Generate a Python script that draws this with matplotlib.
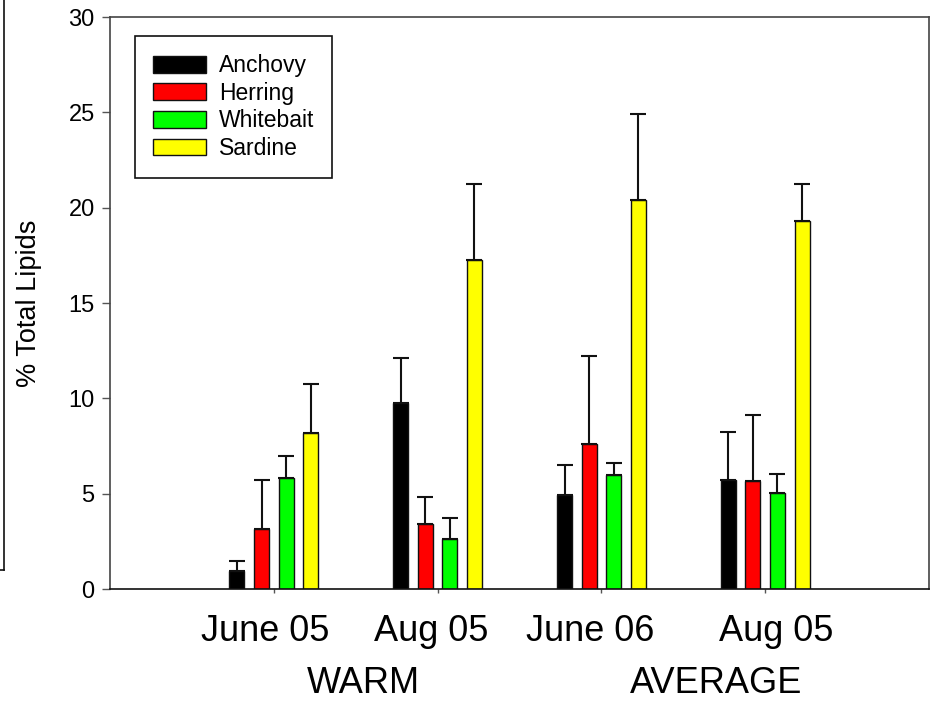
import matplotlib
matplotlib.use("Agg")
import matplotlib.pyplot as plt
from matplotlib.lines import Line2D
import matplotlib.transforms as mtransforms
import numpy as np

plt.rcParams['font.family'] = ['Liberation Sans', 'DejaVu Sans']

# ---- data ----
periods = ['June 05', 'Aug 05', 'June 06', 'Aug 05']
conditions = ['WARM', 'AVERAGE']
species = ['Anchovy', 'Herring', 'Whitebait', 'Sardine']
colors = ['#000000', '#ff0000', '#00ff00', '#ffff00']

anchovy = [0.94, 9.75, 4.91, 5.72]
anchovy_err = [0.54, 2.35, 1.57, 2.50]
herring = [3.13, 3.39, 7.60, 5.66]
herring_err = [2.60, 1.45, 4.63, 3.49]
whitebait = [5.82, 2.61, 5.98, 5.01]
whitebait_err = [1.17, 1.11, 0.64, 1.03]
sardine = [8.18, 17.27, 20.42, 19.29]
sardine_err = [2.55, 3.95, 4.49, 1.93]

yticks = [0, 5, 10, 15, 20, 25, 30]
ylabel = '% Total Lipids'

values = [anchovy, herring, whitebait, sardine]
errors = [anchovy_err, herring_err, whitebait_err, sardine_err]

# ---- figure ----
fig = plt.figure(figsize=(9.32, 7.01), dpi=100)
ax = fig.add_axes([110/932, 1-589/701, 819/932, 572/701])

x = np.arange(1, len(periods) + 1)
offsets = [-0.225, -0.075, 0.075, 0.225]
width = 0.092
for vals, errs, col, name, off in zip(values, errors, colors, species, offsets):
    ax.bar(x + off, vals, width=width, color=col, edgecolor='#111111',
           linewidth=1.0, label=name, zorder=2)
    ax.errorbar(x + off, vals, yerr=[np.zeros(len(errs)), errs], fmt='none',
                ecolor='#111111', elinewidth=1.5, capsize=6, capthick=1.5,
                zorder=3)

ax.set_xlim(0, 5)
ax.set_ylim(0, 30)
ax.set_yticks(yticks)
ax.set_yticklabels([str(t) for t in yticks], fontsize=17)
ax.set_xticks(x)
ax.set_xticklabels([''] * len(x))
ax.tick_params(axis='y', direction='out', length=6, width=1.0, color='#555555', pad=5)
ax.tick_params(axis='x', direction='out', length=3, width=1.0, color='#555555')
for s in ax.spines.values():
    s.set_linewidth(1.2)
    s.set_color('#444444')
ax.spines['bottom'].set_color('#111111')

ax.set_ylabel(ylabel, fontsize=19.5)
ax.yaxis.set_label_coords(-0.083, 0.5)

# period labels (slightly nudged from tick centres, as in the original)
nudges = [-0.05, -0.04, -0.07, 0.07]
trans = mtransforms.blended_transform_factory(ax.transData, fig.transFigure)
for xi, lab, nd in zip(x, periods, nudges):
    ax.text(xi + nd, 1 - 641/701, lab, transform=trans, ha='center',
            va='baseline', fontsize=26, clip_on=False)
cond_x = [1.55, 3.70]
for cx, lab in zip(cond_x, conditions):
    ax.text(cx, 1 - 693/701, lab, transform=trans, ha='center',
            va='baseline', fontsize=26, clip_on=False)

leg = ax.legend(loc='upper left', bbox_to_anchor=(0.0305, 0.967), fontsize=16.5,
                frameon=True, fancybox=False, edgecolor='#111111', framealpha=1,
                handlelength=2.3, handleheight=0.75, handletextpad=0.55,
                labelspacing=0.2, borderpad=0.8, borderaxespad=0)
leg.get_frame().set_linewidth(1.2)

# cropped frame fragment at the far left edge
fig.add_artist(Line2D([4/932, 4/932], [1.0, 1 - 570/701], transform=fig.transFigure,
                      color='#111111', linewidth=1.2))
fig.add_artist(Line2D([0, 4/932], [1 - 570/701, 1 - 570/701], transform=fig.transFigure,
                      color='#111111', linewidth=1.2))

fig.savefig('out.png', dpi=100)
